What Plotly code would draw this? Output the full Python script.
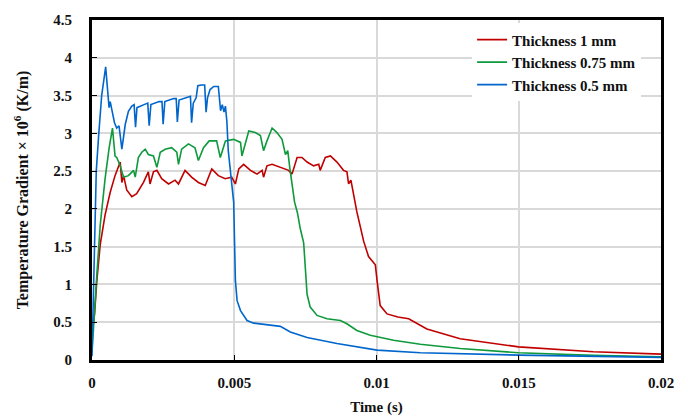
import plotly.graph_objects as go

# ---- data ----
time_1mm = [0, 0.00009, 0.00017, 0.00029, 0.00046, 0.00064, 0.00081, 0.00099, 0.00105, 0.00111,
            0.00122, 0.0014, 0.00157, 0.00181, 0.00198, 0.00204, 0.00216, 0.00228, 0.00245, 0.00269,
            0.00292, 0.00304, 0.00327, 0.0035, 0.00374, 0.00398, 0.00421, 0.00444, 0.00468, 0.00491,
            0.00504, 0.00516, 0.00533, 0.00557, 0.0058, 0.00598, 0.00603, 0.00615, 0.00633, 0.00662,
            0.00691, 0.00703, 0.00721, 0.00738, 0.00756, 0.00779, 0.00797, 0.00802, 0.0082, 0.00838,
            0.00861, 0.00884, 0.00896, 0.00902, 0.0091, 0.00931, 0.00955, 0.00972, 0.00996, 0.01002,
            0.01013, 0.01037, 0.01075, 0.01113, 0.01177, 0.01294, 0.01499, 0.01762, 0.02]
grad_1mm = [0.35, 0.61, 1.05, 1.53, 1.92, 2.22, 2.44, 2.62, 2.35, 2.44,
            2.25, 2.16, 2.20, 2.35, 2.49, 2.33, 2.49, 2.51, 2.40, 2.33,
            2.38, 2.33, 2.51, 2.42, 2.35, 2.31, 2.53, 2.44, 2.40, 2.42,
            2.33, 2.53, 2.59, 2.51, 2.46, 2.51, 2.42, 2.57, 2.59, 2.55,
            2.51, 2.46, 2.68, 2.68, 2.62, 2.57, 2.59, 2.51, 2.68, 2.70,
            2.62, 2.51, 2.49, 2.33, 2.38, 1.96, 1.57, 1.37, 1.26, 1.05,
            0.72, 0.61, 0.57, 0.545, 0.41, 0.28, 0.174, 0.109, 0.078]

time_075mm = [0, 0.00005, 0.00017, 0.00029, 0.00046, 0.0006, 0.00072, 0.00081, 0.00087, 0.00099,
              0.00111, 0.00128, 0.00146, 0.00152, 0.00163, 0.00175, 0.00187, 0.00198, 0.00216, 0.00228,
              0.0024, 0.00257, 0.0028, 0.00298, 0.00304, 0.00315, 0.00339, 0.00362, 0.00374, 0.00392,
              0.00412, 0.00438, 0.00451, 0.00469, 0.00498, 0.00522, 0.00527, 0.00551, 0.00574, 0.00592,
              0.00603, 0.00615, 0.00633, 0.0065, 0.00668, 0.0068, 0.00688, 0.00695, 0.00712, 0.00722,
              0.00732, 0.00744, 0.0075, 0.00756, 0.00767, 0.00791, 0.00826, 0.00873, 0.00896, 0.00931,
              0.00978, 0.0106, 0.01154, 0.01294, 0.01499, 0.01762, 0.02]
grad_075mm = [0.1, 0.44, 1.13, 1.79, 2.4, 2.8, 3.07, 2.70, 2.68, 2.57,
              2.42, 2.44, 2.51, 2.42, 2.68, 2.75, 2.79, 2.72, 2.70, 2.55,
              2.75, 2.79, 2.81, 2.75, 2.59, 2.79, 2.86, 2.81, 2.64, 2.81,
              2.90, 2.90, 2.68, 2.90, 2.92, 2.88, 2.70, 3.03, 3.01, 2.97,
              2.77, 2.90, 3.07, 3.01, 2.92, 2.72, 2.77, 2.55, 2.09, 1.95,
              1.74, 1.55, 1.22, 0.87, 0.70, 0.59, 0.545, 0.523, 0.48, 0.39,
              0.327, 0.262, 0.209, 0.153, 0.096, 0.061, 0.044]

time_05mm = [0, 0.00005, 0.0001, 0.00015, 0.00023, 0.00034, 0.00048, 0.00056, 0.0006, 0.00064,
             0.0007, 0.00079, 0.00087, 0.00095, 0.00105, 0.00117, 0.00128, 0.0014, 0.00148, 0.00153,
             0.00158, 0.00168, 0.00183, 0.00196, 0.00201, 0.00207, 0.0022, 0.00236, 0.00246, 0.0025,
             0.00256, 0.0027, 0.00287, 0.00296, 0.003, 0.00306, 0.0032, 0.00336, 0.00346, 0.0035,
             0.00356, 0.00366, 0.00372, 0.00385, 0.00396, 0.00401, 0.00406, 0.00415, 0.00428, 0.00444,
             0.00452, 0.00458, 0.00464, 0.00469, 0.00474, 0.00479, 0.00498, 0.00504, 0.0051, 0.00522,
             0.00545, 0.00568, 0.00662, 0.00697, 0.00756, 0.00861, 0.00943, 0.01002, 0.01154, 0.01499,
             0.02]
grad_05mm = [0.05, 0.8, 1.9, 2.5, 2.95, 3.5, 3.88, 3.44, 3.34, 3.42,
             3.31, 3.14, 3.07, 3.10, 2.79, 3.12, 3.29, 3.36, 3.38, 3.08,
             3.34, 3.36, 3.38, 3.40, 3.10, 3.38, 3.40, 3.42, 3.42, 3.12,
             3.42, 3.44, 3.46, 3.46, 3.15, 3.44, 3.46, 3.48, 3.49, 3.14,
             3.40, 3.47, 3.63, 3.64, 3.64, 3.28, 3.47, 3.58, 3.62, 3.62,
             3.30, 3.38, 3.28, 3.36, 3.16, 2.77, 2.09, 1.05, 0.785, 0.654,
             0.523, 0.488, 0.445, 0.37, 0.297, 0.218, 0.166, 0.131, 0.095, 0.065,
             0.035]

series_names = ["Thickness 1 mm", "Thickness 0.75 mm", "Thickness 0.5 mm"]
series_colors = ["#C00000", "#0E9A3C", "#0066CC"]

x_tick_vals = [0, 0.005, 0.01, 0.015, 0.02]
x_tick_text = ["0", "0.005", "0.01", "0.015", "0.02"]
y_tick_vals = [0, 0.5, 1, 1.5, 2, 2.5, 3, 3.5, 4, 4.5]
y_tick_text = ["0", "0.5", "1", "1.5", "2", "2.5", "3", "3.5", "4", "4.5"]

FONT = "Liberation Serif"
TXT = "#111111"

fig = go.Figure()
for xs, ys, name, col in zip([time_1mm, time_075mm, time_05mm],
                             [grad_1mm, grad_075mm, grad_05mm],
                             series_names, series_colors):
    fig.add_trace(go.Scatter(x=xs, y=ys, mode="lines", name="<b>%s</b>" % name,
                             line=dict(color=col, width=1.6)))

axis_common = dict(showgrid=True, gridcolor="#D9D9D9", gridwidth=1.5,
                   showline=True, linecolor="black", linewidth=3, mirror=True,
                   ticks="inside", ticklen=5, tickcolor="black", tickwidth=1,
                   zeroline=False,
                   tickfont=dict(family=FONT, size=15, color=TXT))

fig.update_xaxes(range=[0, 0.02], tickvals=x_tick_vals,
                 ticktext=["<b>%s</b>" % t for t in x_tick_text],
                 ticklabelstandoff=7, automargin=False,
                 title=dict(text="<b>Time (s)</b>", font=dict(family=FONT, size=15, color=TXT),
                            standoff=14),
                 **axis_common)
fig.update_yaxes(range=[0, 4.5], tickvals=y_tick_vals,
                 ticktext=["<b>%s</b>" % t for t in y_tick_text],
                 ticklabelstandoff=14, automargin=True,
                 title=dict(text="<b>Temperature Gradient × 10<sup>6</sup> (K/m)</b>",
                            font=dict(family=FONT, size=16, color=TXT), standoff=21),
                 **axis_common)

fig.update_layout(
    width=688, height=416,
    margin=dict(l=92, r=27, t=16, b=56),
    plot_bgcolor="white", paper_bgcolor="white",
    showlegend=True,
    legend=dict(x=0.668, y=0.99, xanchor="left", yanchor="top",
                bgcolor="rgba(255,255,255,1)", borderwidth=0,
                font=dict(family=FONT, size=15, color=TXT),
                itemwidth=30, tracegroupgap=0),
)
fig.write_html("out.html")
